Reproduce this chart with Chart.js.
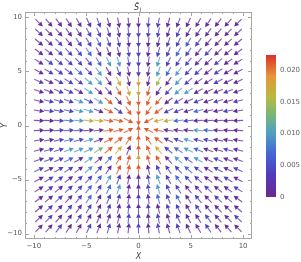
<!DOCTYPE html>
<html><head><meta charset="utf-8">
<script src="https://cdn.jsdelivr.net/npm/chart.js@4"></script>
<style>html,body{margin:0;padding:0;background:#fff}</style>
</head><body>
<canvas id="c" width="301" height="262"></canvas>
<script>
// grid of the vector plot (columns left->right, rows top->bottom)
const xs = [-9.5,-8.55,-7.6,-6.65,-5.7,-4.75,-3.8,-2.85,-1.9,-0.95,0,0.95,1.9,2.85,3.8,4.75,5.7,6.65,7.6,8.55,9.5];
const ys = [9.5,8.595,7.69,6.786,5.881,4.976,4.071,3.167,2.262,1.357,0.452,-0.452,-1.357,-2.262,-3.167,-4.071,-4.976,-5.881,-6.786,-7.69,-8.595,-9.5];
// |S_l|, in units of 0.001
const mag = [
  [1,1,1,1,1,2,4,1,1,1,1,4,4,1,2,1,1,1,1,1,1],
  [1,1,1,1,1,4,4,2,1,4,4,4,4,1,4,1,1,2,1,1,1],
  [1,1,4,1,4,4,6,4,4,1,4,1,1,4,4,6,4,1,1,1,1],
  [1,1,4,4,4,7,1,1,1,4,4,1,4,4,7,4,1,4,1,1,1],
  [1,4,4,4,4,4,7,10,10,4,4,1,10,4,4,4,1,1,4,1,1],
  [1,4,4,4,7,4,10,1,4,1,4,1,10,7,10,4,4,1,4,1,1],
  [4,1,4,4,4,10,10,1,17,1,19,1,15,1,10,4,1,1,4,1,1],
  [1,1,4,4,1,10,1,2,21,17,17,21,1,4,10,10,1,1,1,4,1],
  [1,4,4,4,10,4,10,21,1,21,21,21,21,1,4,1,4,1,4,1,4],
  [1,4,4,4,10,10,1,21,4,21,21,21,21,4,4,1,7,1,1,4,1],
  [1,1,4,7,10,17,17,21,21,21,21,21,17,17,7,4,1,1,1,1,1],
  [1,1,4,4,4,1,1,21,21,21,21,21,21,1,1,1,10,7,1,1,1],
  [1,1,4,7,4,10,1,21,21,21,21,21,21,1,4,10,4,4,1,1,1],
  [1,4,4,10,10,10,13,21,17,1,21,21,17,4,7,10,7,1,1,4,1],
  [1,4,4,7,1,10,1,7,21,21,17,21,21,1,10,4,10,1,4,1,1],
  [4,1,4,4,1,10,4,1,21,21,21,1,4,4,4,7,4,1,4,1,4],
  [1,4,4,1,4,4,7,10,4,1,1,4,10,4,7,4,4,1,1,4,1],
  [1,4,1,4,4,7,4,7,10,1,1,4,10,4,4,1,1,4,1,1,4],
  [1,1,4,1,4,7,1,4,4,1,4,1,7,4,7,1,4,1,4,1,1],
  [1,4,1,4,1,4,1,4,1,4,1,4,1,4,4,1,4,1,1,1,1],
  [1,4,1,1,4,1,1,1,1,4,4,1,4,1,4,1,1,4,1,1,4],
  [1,1,4,1,1,4,1,4,1,1,4,1,4,1,4,1,1,4,1,1,1]
];
const xTicks = [-10,-5,0,5,10];
const yTicks = [-10,-5,0,5,10];
const barTicks = [0,0.005,0.010,0.015,0.020];
const barMax = 0.0224;

const stops = [[0,[108,40,140]],[0.15,[82,58,188]],[0.3,[68,100,214]],[0.45,[80,160,192]],
  [0.57,[116,182,122]],[0.7,[184,186,66]],[0.85,[230,150,56]],[1,[220,50,40]]];
function colorAt(t){
  t = Math.max(0, Math.min(1, t));
  for (let i=1;i<stops.length;i++){
    if (t <= stops[i][0]){
      const a=stops[i-1], b=stops[i], f=(t-a[0])/(b[0]-a[0]);
      const c=a[1].map((v,k)=>Math.round(v+(b[1][k]-v)*f));
      return `rgb(${c[0]},${c[1]},${c[2]})`;
    }
  }
  return 'rgb(220,50,40)';
}

const points = [];
ys.forEach((y,r)=> xs.forEach((x,c)=> points.push({x:x, y:y, m:mag[r][c]/1000})));

const minus = v => String(v).replace('-', '\u2212');

const arrows = {
  id:'arrows',
  afterDatasetsDraw(chart){
    const ctx = chart.ctx, meta = chart.getDatasetMeta(0);
    const ox = chart.scales.x.getPixelForValue(0), oy = chart.scales.y.getPixelForValue(0);
    const L = 10.5, hl = 4.6, hw = 2.4;
    ctx.save();
    meta.data.forEach((el,i)=>{
      const d = points[i];
      let dx = ox-el.x, dy = oy-el.y; const n = Math.hypot(dx,dy); dx/=n; dy/=n;
      const tx = el.x - dx*L/2, ty = el.y - dy*L/2, hx = el.x + dx*L/2, hy = el.y + dy*L/2;
      const col = colorAt(d.m/barMax);
      ctx.strokeStyle = col; ctx.fillStyle = col; ctx.lineWidth = 1.1;
      ctx.globalAlpha = 0.8;
      ctx.beginPath(); ctx.moveTo(tx,ty); ctx.lineTo(hx-dx*hl, hy-dy*hl); ctx.stroke();
      ctx.globalAlpha = 1;
      ctx.beginPath();
      ctx.moveTo(hx,hy);
      ctx.lineTo(hx-dx*hl-dy*hw, hy-dy*hl+dx*hw);
      ctx.lineTo(hx-dx*hl+dy*hw, hy-dy*hl-dx*hw);
      ctx.closePath(); ctx.fill();
    });
    ctx.restore();
  },
  afterDraw(chart){
    const ctx = chart.ctx, a = chart.chartArea, sx = chart.scales.x, sy = chart.scales.y;
    ctx.save();
    ctx.strokeStyle = '#a6a6a6'; ctx.lineWidth = 1;
    ctx.strokeRect(a.left+0.5, a.top+0.5, a.right-a.left-1, a.bottom-a.top-1);
    ctx.beginPath();
    for (let v=-10; v<=10; v++){
      const len = v%5===0 ? 4 : 2;
      const px = Math.round(sx.getPixelForValue(v))+0.5, py = Math.round(sy.getPixelForValue(v))+0.5;
      ctx.moveTo(px, a.bottom); ctx.lineTo(px, a.bottom-len);
      ctx.moveTo(px, a.top); ctx.lineTo(px, a.top+len);
      ctx.moveTo(a.left, py); ctx.lineTo(a.left+len, py);
      ctx.moveTo(a.right, py); ctx.lineTo(a.right-len, py);
    }
    ctx.stroke();
    // title S~_l
    ctx.fillStyle = '#333';
    ctx.font = 'italic 8px "DejaVu Sans"';
    ctx.textBaseline = 'alphabetic'; ctx.textAlign = 'left';
    ctx.fillText('S\u0303', 134, 10);
    ctx.font = 'italic 6px "DejaVu Sans"';
    ctx.fillText('l', 139.5, 12);
    // colour bar
    const bx = 266, bw = 10, bTop = 55, bBot = 197;
    for (let yy=bTop; yy<bBot; yy++){
      ctx.fillStyle = colorAt((bBot-yy-0.5)/(bBot-bTop));
      ctx.fillRect(bx, yy, bw, 1);
    }
    ctx.fillStyle = '#666'; ctx.font = '7px "DejaVu Sans"'; ctx.textBaseline = 'middle';
    barTicks.forEach(v=>{
      const yy = bBot - v/barMax*(bBot-bTop);
      ctx.fillText(v===0 ? '0' : v.toFixed(3), 280, yy);
    });
    ctx.restore();
  }
};

new Chart(document.getElementById('c'), {
  type:'scatter',
  data:{ datasets:[{ data: points, pointRadius:0, pointHoverRadius:0 }] },
  options:{
    responsive:false, animation:false, devicePixelRatio:1,
    layout:{ padding:{ left:0, right:49, top:12, bottom:0 } },
    plugins:{ legend:{display:false}, tooltip:{enabled:false} },
    scales:{
      x:{ type:'linear', min:-10.85, max:10.85,
        grid:{display:false, drawTicks:false}, border:{display:false},
        afterBuildTicks: s => { s.ticks = xTicks.map(v=>({value:v})); },
        ticks:{ color:'#555', font:{size:7, family:'DejaVu Sans'}, padding:3, maxRotation:0, callback: minus },
        title:{ display:true, text:'X', color:'#444', font:{size:8, style:'italic', family:'DejaVu Sans'}, padding:0 },
        afterFit: s => { s.height = 23; } },
      y:{ type:'linear', min:-10.5, max:10.5,
        grid:{display:false, drawTicks:false}, border:{display:false},
        afterBuildTicks: s => { s.ticks = yTicks.map(v=>({value:v})); },
        ticks:{ color:'#555', font:{size:7, family:'DejaVu Sans'}, padding:3, callback: minus },
        title:{ display:true, text:'Y', color:'#444', font:{size:8, style:'italic', family:'DejaVu Sans'}, padding:0 },
        afterFit: s => { s.width = 25; } }
    }
  },
  plugins:[arrows]
});
</script>
</body></html>
